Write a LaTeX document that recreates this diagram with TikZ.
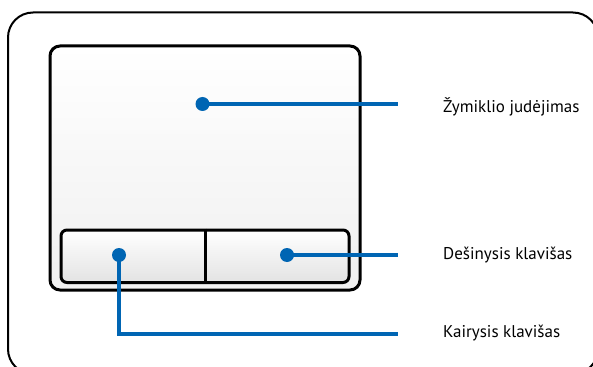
\documentclass[tikz,border=0pt]{standalone}
\usepackage{fontspec}
\setmainfont{PT Sans}
\usetikzlibrary{positioning}
\definecolor{padblue}{RGB}{0,101,179}

\begin{document}
\begin{tikzpicture}[
    x=1pt, y=-1pt,
    % frame and touchpad parts
    frame/.style={draw, line width=2pt, rounded corners=25pt},
    pad/.style={draw, line width=3pt, rounded corners=10pt, rectangle,
        top color=white, bottom color=black!6, inner sep=0pt},
    btnbar/.style={draw, line width=3pt, rounded corners=6pt, rectangle,
        top color=white, bottom color=black!11, inner sep=0pt},
    % callout markers, leaders and texts
    dot/.style={circle, fill=padblue, minimum size=14pt, inner sep=0pt},
    leader/.style={draw=padblue, line width=3.8pt},
    callout/.style={anchor=base west, inner sep=0pt, font=\fontsize{17}{20}\selectfont}
]
\useasboundingbox (0,0) rectangle (593,366);
\clip (0,0) rectangle (593,366);

% Notebook palm rest (cut by the picture edge)
\draw[frame] (8,12.5) rectangle (598,374);

% Touchpad and its two buttons
\node[pad, minimum width=310pt, minimum height=244pt] (pad) at (205,168) {};
\node[btnbar, minimum width=288pt, minimum height=52.5pt] (btns) at (205,256.25) {};
\draw[line width=3pt] (btns.north) -- (btns.south);

% Callout markers
\node[dot] (dotpad) at (202.5,104) {};
\node[dot] (dotright) at (287,255) {};
\node[dot] (dotleft) at (119,255) {};

% Leader ends
\coordinate (endpad) at (398,104);
\coordinate (endright) at (398,255);
\coordinate (endleft) at (398,334);

\draw[leader] (dotpad.center) -- (endpad);
\draw[leader] (dotright.center) -- (endright);
\draw[leader] (dotleft.center) |- (endleft);

% Labels
\node[callout] (lblpad) at (443,112.5) {Žymiklio judėjimas};
\node[callout] (lblright) at (443,259.5) {Dešinysis klavišas};
\node[callout] (lblleft) at (443,337.5) {Kairysis klavišas};

\end{tikzpicture}
\end{document}
